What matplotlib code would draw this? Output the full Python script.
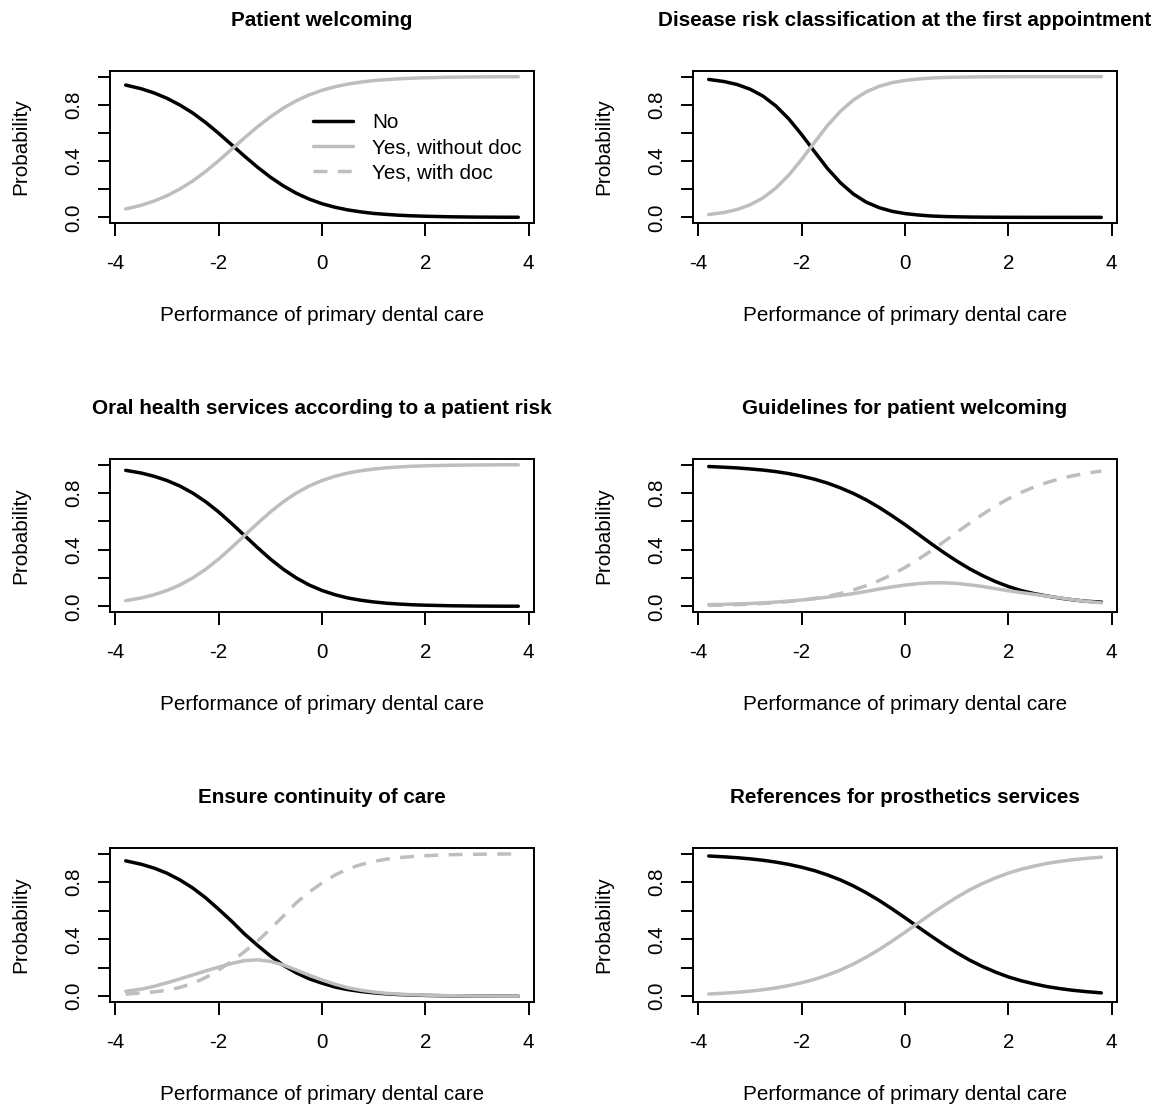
import matplotlib
matplotlib.use("Agg")
import matplotlib.pyplot as plt
from matplotlib.transforms import offset_copy

plt.rcParams['font.family'] = ['Liberation Sans', 'DejaVu Sans']
plt.rcParams['axes.unicode_minus'] = False

# performance score where the curves were read
x = [-3.8, -3.5, -3.25, -3.0, -2.75, -2.5, -2.25, -2.0, -1.75, -1.5, -1.25, -1.0, -0.75, -0.5, -0.25,
     0.0, 0.25, 0.5, 0.75, 1.0, 1.25, 1.5, 1.75, 2.0, 2.25, 2.5, 2.75, 3.0, 3.25, 3.5, 3.8]

titles = ["Patient welcoming",
          "Disease risk classification at the first appointment",
          "Oral health services according to a patient risk",
          "Guidelines for patient welcoming",
          "Ensure continuity of care",
          "References for prosthetics services"]
labels = ["No", "Yes, without doc", "Yes, with doc"]

welcoming_no = [0.940, 0.914, 0.884, 0.846, 0.798, 0.741, 0.673, 0.597, 0.516, 0.435, 0.357, 0.286, 0.224, 0.172, 0.130,
                0.097, 0.072, 0.053, 0.039, 0.028, 0.021, 0.015, 0.011, 0.008, 0.006, 0.004, 0.003, 0.002, 0.0015, 0.001, 0.001]
welcoming_wo = [0.060, 0.086, 0.116, 0.154, 0.202, 0.259, 0.327, 0.403, 0.484, 0.565, 0.643, 0.714, 0.776, 0.828, 0.870,
                0.903, 0.928, 0.947, 0.961, 0.972, 0.979, 0.985, 0.989, 0.992, 0.994, 0.996, 0.997, 0.998, 0.9985, 0.999, 0.999]

risk_no = [0.980, 0.965, 0.944, 0.911, 0.862, 0.792, 0.700, 0.588, 0.466, 0.347, 0.246, 0.166, 0.108, 0.069, 0.043,
           0.027, 0.017, 0.010, 0.006, 0.004, 0.0025, 0.0015, 0.001, 0.0006, 0.0004, 0.0002, 0.0001, 0.0001, 0.0, 0.0, 0.0]
risk_wo = [0.020, 0.035, 0.056, 0.089, 0.138, 0.208, 0.300, 0.412, 0.534, 0.653, 0.754, 0.834, 0.892, 0.931, 0.957,
           0.973, 0.983, 0.990, 0.994, 0.996, 0.9975, 0.9985, 0.999, 0.9994, 0.9996, 0.9998, 0.9999, 0.9999, 1.0, 1.0, 1.0]

services_no = [0.960, 0.941, 0.918, 0.888, 0.849, 0.799, 0.738, 0.666, 0.585, 0.500, 0.415, 0.334, 0.262, 0.201, 0.151,
               0.112, 0.082, 0.059, 0.043, 0.031, 0.022, 0.016, 0.011, 0.008, 0.006, 0.004, 0.003, 0.002, 0.0015, 0.001, 0.001]
services_wo = [0.040, 0.059, 0.082, 0.112, 0.151, 0.201, 0.262, 0.334, 0.415, 0.500, 0.585, 0.666, 0.738, 0.799, 0.849,
               0.888, 0.918, 0.941, 0.957, 0.969, 0.978, 0.984, 0.989, 0.992, 0.994, 0.996, 0.997, 0.998, 0.9985, 0.999, 0.999]

guidelines_no = [0.987, 0.982, 0.977, 0.970, 0.962, 0.951, 0.937, 0.919, 0.897, 0.870, 0.836, 0.797, 0.751, 0.698, 0.639,
                 0.577, 0.511, 0.444, 0.380, 0.320, 0.265, 0.217, 0.175, 0.140, 0.111, 0.090, 0.073, 0.058, 0.046, 0.036, 0.030]
guidelines_wo = [0.012, 0.014, 0.017, 0.020, 0.025, 0.030, 0.037, 0.045, 0.054, 0.065, 0.077, 0.090, 0.105, 0.122, 0.137,
                 0.150, 0.160, 0.166, 0.166, 0.162, 0.152, 0.140, 0.125, 0.110, 0.097, 0.085, 0.072, 0.060, 0.047, 0.035, 0.025]
guidelines_w = [0.007, 0.009, 0.012, 0.015, 0.020, 0.026, 0.034, 0.043, 0.056, 0.071, 0.091, 0.116, 0.146, 0.182, 0.224,
                0.274, 0.330, 0.391, 0.455, 0.521, 0.587, 0.649, 0.707, 0.759, 0.804, 0.842, 0.874, 0.901, 0.922, 0.939, 0.955]

continuity_no = [0.950, 0.926, 0.899, 0.863, 0.816, 0.759, 0.690, 0.610, 0.527, 0.437, 0.358, 0.283, 0.218, 0.165, 0.123,
                 0.092, 0.065, 0.047, 0.034, 0.024, 0.017, 0.012, 0.009, 0.006, 0.0045, 0.003, 0.0023, 0.002, 0.0012, 0.001, 0.0005]
continuity_wo = [0.035, 0.050, 0.070, 0.095, 0.122, 0.150, 0.178, 0.205, 0.230, 0.250, 0.256, 0.245, 0.220, 0.185, 0.148,
                 0.115, 0.085, 0.060, 0.043, 0.030, 0.021, 0.015, 0.011, 0.008, 0.006, 0.004, 0.003, 0.002, 0.0015, 0.001, 0.001]
continuity_w = [0.015, 0.024, 0.031, 0.042, 0.062, 0.091, 0.132, 0.185, 0.245, 0.313, 0.386, 0.472, 0.562, 0.655, 0.730,
                0.795, 0.850, 0.893, 0.923, 0.946, 0.962, 0.973, 0.980, 0.986, 0.990, 0.993, 0.995, 0.996, 0.997, 0.998, 0.9985]

prosthetics_no = [0.984, 0.978, 0.972, 0.964, 0.954, 0.941, 0.925, 0.905, 0.881, 0.851, 0.816, 0.774, 0.726, 0.672, 0.613,
                  0.551, 0.487, 0.424, 0.363, 0.306, 0.254, 0.209, 0.170, 0.136, 0.109, 0.087, 0.068, 0.054, 0.042, 0.033, 0.024]
prosthetics_wo = [0.016, 0.022, 0.028, 0.036, 0.046, 0.059, 0.075, 0.095, 0.119, 0.149, 0.184, 0.226, 0.274, 0.328, 0.387,
                  0.449, 0.513, 0.576, 0.637, 0.694, 0.746, 0.791, 0.830, 0.864, 0.891, 0.913, 0.932, 0.946, 0.958, 0.967, 0.976]

panels = [
    (welcoming_no, welcoming_wo, None),
    (risk_no, risk_wo, None),
    (services_no, services_wo, None),
    (guidelines_no, guidelines_wo, guidelines_w),
    (continuity_no, continuity_wo, continuity_w),
    (prosthetics_no, prosthetics_wo, None),
]

W, H = 1164, 1106
fig = plt.figure(figsize=(W / 100, H / 100), dpi=100)

cols = [(110, 534), (693, 1117)]
rows = [(71, 223), (459, 612), (848, 1002)]
fs = 14.9
gray = "#BEBEBE"
lw = 2.5
dash = (4.0, 3.0)

for i, (no, wo, w) in enumerate(panels):
    l, r = cols[i % 2]
    t, b = rows[i // 2]
    ax = fig.add_axes([l / W, 1 - b / H, (r - l) / W, (b - t) / H])
    ax.plot(x, no, color="black", lw=lw, solid_capstyle="round", label=labels[0])
    ax.plot(x, wo, color=gray, lw=lw, solid_capstyle="round", label=labels[1])
    if w is not None:
        ax.plot(x, w, color=gray, lw=lw, dashes=dash, label=labels[2])
    else:
        ax.plot([], [], color=gray, lw=lw, dashes=dash, label=labels[2])
    ax.set_xlim(-4.104, 4.104)
    ax.set_ylim(-0.04, 1.04)
    ax.set_xticks([-4, -2, 0, 2, 4])
    ax.set_yticks([0, 0.2, 0.4, 0.6, 0.8, 1.0])
    ax.set_yticklabels(["0.0", "", "0.4", "", "0.8", ""])
    for s in ax.spines.values():
        s.set_linewidth(1.4)
    ax.tick_params(direction="out", length=9, width=1.4, labelsize=fs)
    ax.tick_params(axis="x", pad=13.5)
    ax.tick_params(axis="y", pad=10)
    for lab in ax.get_yticklabels():
        lab.set_rotation(90)
        lab.set_va("center")

    ax.text(0.5, 1, titles[i], fontsize=fs, fontweight="bold", ha="center", va="baseline",
            transform=offset_copy(ax.transAxes, fig=fig, y=45, units="dots"))
    ax.text(0.5, 0, "Performance of primary dental care", fontsize=fs, ha="center", va="baseline",
            transform=offset_copy(ax.transAxes, fig=fig, y=-98, units="dots"))
    ax.text(0, 0.5, "Probability", fontsize=fs, rotation=90, ha="center", va="center",
            transform=offset_copy(ax.transAxes, fig=fig, x=-89, units="dots"))

    if i == 0:
        ax.legend(loc="upper left", bbox_to_anchor=(313 / W, 1 - 113 / H),
                  bbox_transform=fig.transFigure, frameon=False, fontsize=fs,
                  handlelength=1.94, handletextpad=0.9, labelspacing=0.3,
                  borderpad=0, borderaxespad=0)

fig.savefig("out.png", dpi=100)
